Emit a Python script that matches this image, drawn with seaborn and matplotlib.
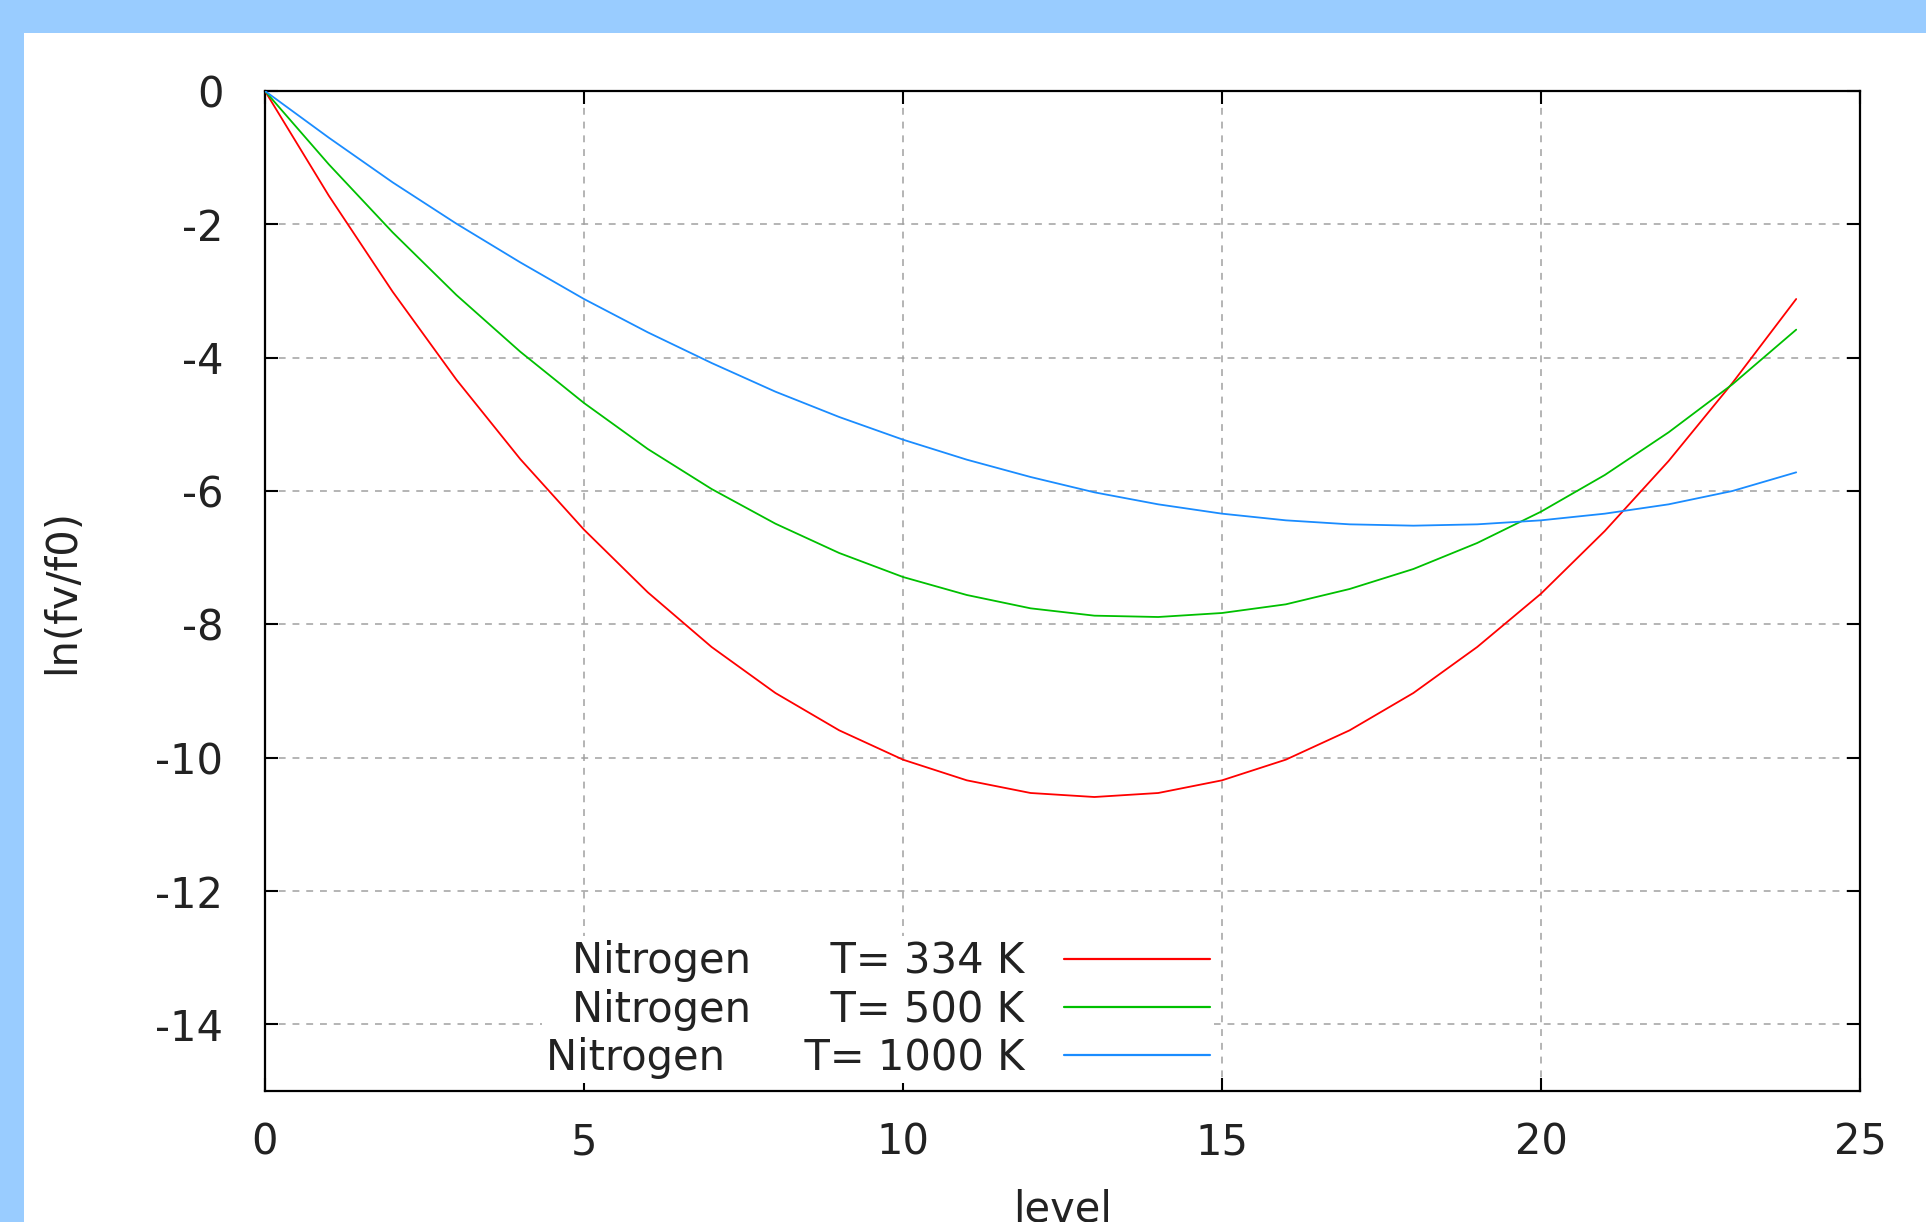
import matplotlib
matplotlib.use("Agg")
import matplotlib.pyplot as plt
import seaborn as sns
import pandas as pd
from matplotlib.patches import Rectangle

# ---- data ----
levels = list(range(25))
lnf_334 = [0.00, -1.57, -3.01, -4.33, -5.52, -6.58, -7.52, -8.34, -9.03, -9.59,
           -10.03, -10.34, -10.53, -10.59, -10.53, -10.34, -10.03, -9.59, -9.03,
           -8.34, -7.54, -6.60, -5.55, -4.38, -3.12]
lnf_500 = [0.00, -1.10, -2.12, -3.06, -3.91, -4.68, -5.37, -5.97, -6.49, -6.93,
           -7.29, -7.56, -7.76, -7.87, -7.89, -7.83, -7.70, -7.47, -7.17, -6.78,
           -6.31, -5.76, -5.12, -4.40, -3.58]
lnf_1000 = [0.00, -0.70, -1.37, -1.99, -2.57, -3.12, -3.62, -4.08, -4.51, -4.89,
            -5.23, -5.53, -5.79, -6.02, -6.20, -6.34, -6.44, -6.50, -6.52, -6.50,
            -6.44, -6.34, -6.20, -6.00, -5.72]
series_labels = ["Nitrogen      T= 334 K",
                 "Nitrogen      T= 500 K",
                 "Nitrogen      T= 1000 K"]
series_colors = ["#ff0000", "#00c000", "#1a8cff"]
x_ticks = [0, 5, 10, 15, 20, 25]
y_ticks = [0, -2, -4, -6, -8, -10, -12, -14]

df = pd.concat([
    pd.DataFrame({"level": levels, "lnf": vals, "series": lab})
    for vals, lab in zip([lnf_334, lnf_500, lnf_1000], series_labels)
], ignore_index=True)

sns.set_theme(style="white")
plt.rcParams["font.family"] = ["DejaVu Sans"]
plt.rcParams["axes.unicode_minus"] = False

W, H = 1926, 1222
fig = plt.figure(figsize=(W / 100, H / 100), dpi=100, facecolor="white")

# light-blue frame bands (top and left)
fig.patches.append(Rectangle((0, 1 - 33 / H), 1, 33 / H, transform=fig.transFigure,
                             facecolor="#99ccff", edgecolor="none", zorder=-10))
fig.patches.append(Rectangle((0, 0), 24 / W, 1, transform=fig.transFigure,
                             facecolor="#99ccff", edgecolor="none", zorder=-10))

ax = fig.add_axes([265 / W, 1 - 1091 / H, (1860 - 265) / W, (1091 - 91) / H])
ax.set_facecolor("white")

sns.lineplot(data=df, x="level", y="lnf", hue="series", hue_order=series_labels,
             palette=series_colors, linewidth=1.3, ax=ax, legend=True, zorder=3)

ax.set_xlim(0, 25)
ax.set_ylim(-15, 0)
ax.set_xticks(x_ticks)
ax.set_yticks(y_ticks)
ax.set_xticklabels([str(t) for t in x_ticks])
ax.set_yticklabels([str(t) for t in y_ticks])

ax.grid(True, color="#a0a0a0", linestyle=(0, (4.5, 4.5)), linewidth=1.1, zorder=0)
ax.set_axisbelow(True)

for sp in ax.spines.values():
    sp.set_visible(True)
    sp.set_color("black")
    sp.set_linewidth(1.6)

ax.tick_params(axis="both", which="major", direction="in", length=9.5, width=1.5,
               color="black", top=True, right=True, bottom=True, left=True,
               labelsize=30, labelcolor="#222222")
ax.tick_params(axis="y", pad=30)
ax.tick_params(axis="x", pad=22)

ax.set_xlabel("level", fontsize=30, color="#222222", labelpad=18)
ax.set_ylabel("ln(fv/f0)", fontsize=30, color="#222222", labelpad=52)

handles, labels = ax.get_legend_handles_labels()
leg = ax.legend(handles, labels, loc="lower right", bbox_to_anchor=(0.595, 0.008),
                markerfirst=False, fontsize=30, handlelength=3.5, handletextpad=0.95,
                labelspacing=0.15, borderpad=0.1, borderaxespad=0.0,
                frameon=True, fancybox=False, framealpha=1.0)
leg.get_frame().set_facecolor("white")
leg.get_frame().set_edgecolor("none")
leg.set_zorder(2)
for t in leg.get_texts():
    t.set_color("#222222")
for line in leg.get_lines():
    line.set_linewidth(1.6)

fig.savefig("out.png", dpi=100, facecolor="white")
